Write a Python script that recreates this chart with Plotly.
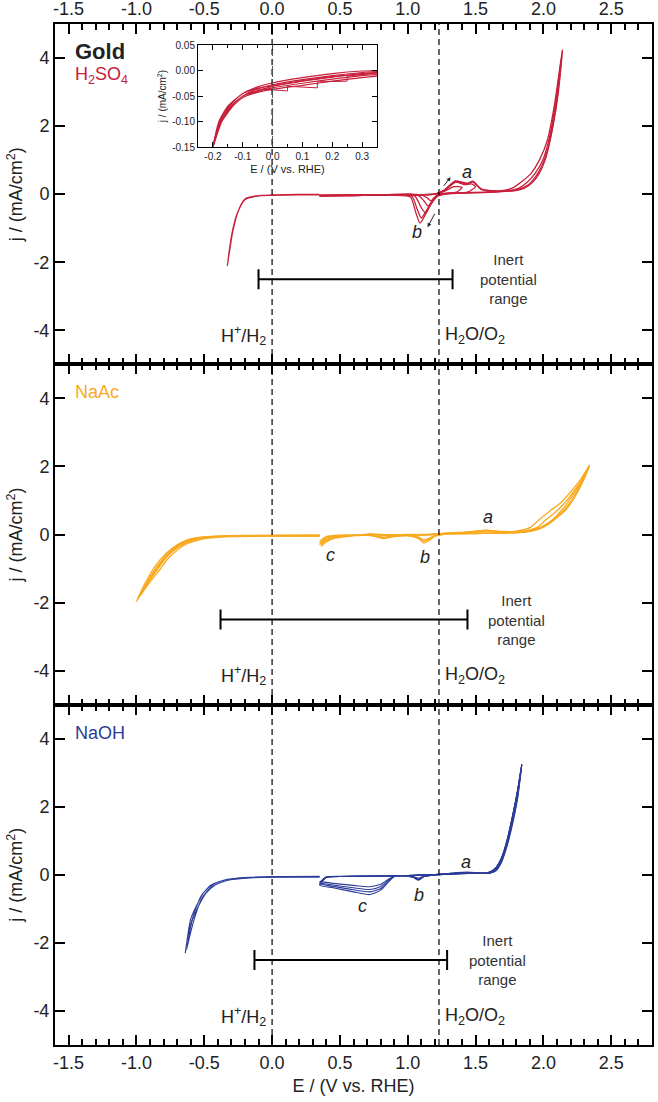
import plotly.graph_objects as go

# ---------------- axis / tick data ----------------
x_range = [-1.6, 2.8]
y_range = [-5, 5]
x_tickvals = [-1.5, -1.0, -0.5, 0.0, 0.5, 1.0, 1.5, 2.0, 2.5]
x_ticktext = ["-1.5", "-1.0", "-0.5", "0.0", "0.5", "1.0", "1.5", "2.0", "2.5"]
y_tickvals = [-4, -2, 0, 2, 4]
y_ticktext = ["-4", "-2", "0", "2", "4"]

inset_x_range = [-0.25, 0.35]
inset_y_range = [-0.15, 0.05]
inset_x_tickvals = [-0.2, -0.1, 0.0, 0.1, 0.2, 0.3]
inset_x_ticktext = ["-0.2", "-0.1", "0.0", "0.1", "0.2", "0.3"]
inset_y_tickvals = [0.05, 0.0, -0.05, -0.10, -0.15]
inset_y_ticktext = ["0.05", "0.00", "-0.05", "-0.10", "-0.15"]

# reference potentials (dashed lines)
ref_potentials = [0.0, 1.23]

# inert potential range bars: top (H2SO4), middle (NaAc), bottom (NaOH)
inert_lo = [-0.10, -0.38, -0.13]
inert_hi = [1.33, 1.44, 1.29]
inert_j = [-2.5, -2.5, -2.5]
inert_text_x = [1.74, 1.80, 1.66]

# ---------------- H2SO4 (top) ----------------
h2so4_her_E = [0.35, 0.2, 0.0, -0.1, -0.2, -0.25, -0.29, -0.33, -0.3, -0.26, -0.2, -0.1, 0.0, 0.2, 0.35]
h2so4_her_j = [-0.02, -0.02, -0.035, -0.05, -0.16, -0.5, -1.1, -2.1, -1.25, -0.6, -0.14, -0.04, -0.025, -0.01, -0.01]

h2so4_c1_E = [0.35, 0.7, 1.0, 1.2, 1.27, 1.34, 1.4, 1.36, 1.28, 1.22, 1.19, 1.17, 1.14, 1.1, 0.9, 0.6, 0.35]
h2so4_c1_j = [-0.03, -0.02, -0.01, 0.0, 0.08, 0.22, 0.2, 0.06, 0.02, -0.02, -0.12, -0.2, -0.1, -0.03, -0.02, -0.03, -0.04]

h2so4_c2_E = [0.35, 0.7, 1.0, 1.2, 1.27, 1.35, 1.42, 1.47, 1.5, 1.44, 1.35, 1.25, 1.21, 1.17, 1.15, 1.12, 1.08, 0.9, 0.6, 0.35]
h2so4_c2_j = [-0.04, -0.02, -0.01, 0.0, 0.1, 0.35, 0.28, 0.3, 0.22, 0.06, 0.03, 0.01, -0.08, -0.25, -0.35, -0.2, -0.04, -0.02, -0.03, -0.05]

h2so4_c3_E = [0.35, 0.7, 1.0, 1.2, 1.27, 1.35, 1.44, 1.48, 1.54, 1.6, 1.65, 1.58, 1.45, 1.3, 1.22, 1.17, 1.13, 1.1, 1.05, 0.9, 0.6, 0.35]
h2so4_c3_j = [-0.04, -0.03, -0.01, 0.0, 0.12, 0.38, 0.32, 0.37, 0.16, 0.1, 0.1, 0.06, 0.05, 0.02, -0.06, -0.3, -0.55, -0.4, -0.05, -0.03, -0.04, -0.05]

h2so4_c4_E = [0.35, 0.7, 1.0, 1.2, 1.27, 1.35, 1.44, 1.48, 1.54, 1.62, 1.72, 1.78, 1.85, 1.91, 1.97, 2.03, 2.08, 2.14,
              2.11, 2.07, 2.03, 1.99, 1.94, 1.88, 1.8, 1.6, 1.4, 1.25, 1.2, 1.15, 1.09, 1.06, 1.02, 0.9, 0.6, 0.35]
h2so4_c4_j = [-0.03, -0.02, -0.01, 0.0, 0.12, 0.38, 0.32, 0.38, 0.15, 0.1, 0.12, 0.2, 0.4, 0.62, 1.0, 1.6, 2.6, 4.24,
              3.0, 2.0, 1.3, 0.85, 0.5, 0.25, 0.12, 0.06, 0.04, 0.01, -0.1, -0.45, -0.85, -0.55, -0.08, -0.03, -0.04, -0.05]

h2so4_c5_E = [0.35, 0.7, 1.0, 1.2, 1.27, 1.35, 1.44, 1.48, 1.54, 1.62, 1.74, 1.82, 1.88, 1.94, 2.0, 2.04, 2.09, 2.14,
              2.1, 2.05, 2.02, 1.97, 1.92, 1.86, 1.78, 1.6, 1.4, 1.25, 1.2, 1.15, 1.1, 1.07, 1.03, 0.9, 0.6, 0.35]
h2so4_c5_j = [-0.04, -0.02, -0.01, 0.0, 0.11, 0.36, 0.3, 0.36, 0.14, 0.09, 0.1, 0.18, 0.35, 0.62, 1.05, 1.6, 2.7, 4.24,
              2.8, 1.6, 1.1, 0.62, 0.35, 0.18, 0.1, 0.05, 0.03, 0.0, -0.1, -0.4, -0.7, -0.45, -0.06, -0.03, -0.04, -0.05]

# ---------------- inset (H2SO4, low potential) ----------------
inset_E = [0.35, 0.3, 0.2, 0.1, 0.0, -0.05, -0.1, -0.15, -0.18, -0.2, -0.17, -0.13, -0.1, -0.05, 0.0, 0.1, 0.2, 0.3, 0.35]
inset_c1_j = [-0.004, -0.006, -0.012, -0.02, -0.03, -0.035, -0.045, -0.07, -0.1, -0.15, -0.09, -0.06, -0.045, -0.032, -0.024, -0.014, -0.006, -0.001, 0.0]
inset_c2_j = [-0.008, -0.01, -0.017, -0.025, -0.034, -0.04, -0.05, -0.075, -0.105, -0.15, -0.095, -0.065, -0.05, -0.036, -0.028, -0.018, -0.01, -0.004, -0.002]
inset_c3_j = [-0.011, -0.014, -0.021, -0.029, -0.037, -0.043, -0.053, -0.079, -0.108, -0.15, -0.1, -0.068, -0.053, -0.04, -0.031, -0.021, -0.013, -0.007, -0.004]
inset_steps_E = [-0.05, -0.05, 0.05, 0.05, 0.15, 0.15, 0.25, 0.25, 0.35]
inset_steps_j = [-0.044, -0.036, -0.04, -0.031, -0.034, -0.022, -0.021, -0.011, -0.005]

# ---------------- NaAc (middle) ----------------
naac_her1_E = [0.35, 0.0, -0.3, -0.45, -0.55, -0.63, -0.7, -0.77, -0.84, -0.92, -1.0, -0.93, -0.86, -0.78, -0.7, -0.62, -0.52, -0.4, -0.2, 0.0, 0.35]
naac_her1_j = [-0.04, -0.04, -0.05, -0.08, -0.13, -0.22, -0.38, -0.62, -1.0, -1.45, -1.97, -1.38, -0.92, -0.55, -0.3, -0.15, -0.08, -0.05, -0.03, -0.03, -0.02]
naac_her2_E = [0.35, 0.0, -0.3, -0.45, -0.55, -0.63, -0.7, -0.77, -0.84, -0.92, -0.98, -0.9, -0.82, -0.74, -0.66, -0.58, -0.48, -0.35, -0.15, 0.1, 0.35]
naac_her2_j = [-0.05, -0.05, -0.06, -0.1, -0.17, -0.28, -0.46, -0.72, -1.1, -1.5, -1.85, -1.25, -0.8, -0.45, -0.24, -0.12, -0.07, -0.05, -0.04, -0.03, -0.03]
naac_her3_E = [0.35, 0.0, -0.3, -0.5, -0.6, -0.68, -0.75, -0.82, -0.9, -0.96, -0.88, -0.8, -0.72, -0.64, -0.55, -0.45, -0.3, 0.0, 0.35]
naac_her3_j = [-0.04, -0.04, -0.05, -0.1, -0.2, -0.34, -0.55, -0.85, -1.3, -1.7, -1.15, -0.7, -0.4, -0.2, -0.1, -0.06, -0.04, -0.03, -0.03]

naac_c1_E = [0.35, 0.4, 0.5, 0.65, 0.72, 0.8, 0.9, 1.0, 1.1, 1.2, 1.3, 1.45, 1.58, 1.7, 1.8, 1.9, 1.97, 2.05, 2.13, 2.2, 2.27, 2.34,
             2.3, 2.25, 2.2, 2.15, 2.07, 1.98, 1.88, 1.7, 1.5, 1.3, 1.2, 1.15, 1.12, 1.08, 1.0, 0.9, 0.82, 0.75, 0.68, 0.55, 0.45, 0.4, 0.36]
naac_c1_j = [-0.3, -0.1, -0.04, -0.03, 0.0, -0.02, -0.03, -0.02, -0.02, 0.0, 0.03, 0.06, 0.1, 0.07, 0.1, 0.2, 0.44, 0.7, 0.94, 1.25, 1.6, 2.03,
             1.7, 1.3, 0.94, 0.7, 0.4, 0.18, 0.08, 0.04, 0.03, 0.02, -0.05, -0.2, -0.25, -0.12, -0.04, -0.06, -0.12, -0.05, -0.02, -0.06, -0.12, -0.22, -0.35]
naac_c2_E = [0.35, 0.4, 0.5, 0.65, 0.72, 0.8, 0.9, 1.0, 1.1, 1.2, 1.3, 1.45, 1.58, 1.7, 1.85, 1.95, 2.02, 2.1, 2.16, 2.23, 2.29, 2.34,
             2.3, 2.24, 2.18, 2.12, 2.04, 1.95, 1.85, 1.7, 1.5, 1.3, 1.2, 1.15, 1.12, 1.08, 1.0, 0.9, 0.82, 0.75, 0.68, 0.55, 0.45, 0.4, 0.36]
naac_c2_j = [-0.25, -0.08, -0.03, -0.02, 0.01, -0.01, -0.02, -0.01, -0.01, 0.01, 0.04, 0.07, 0.12, 0.08, 0.1, 0.2, 0.44, 0.7, 0.94, 1.3, 1.65, 2.03,
             1.65, 1.2, 0.85, 0.6, 0.35, 0.16, 0.07, 0.04, 0.03, 0.02, -0.04, -0.16, -0.2, -0.1, -0.03, -0.05, -0.1, -0.04, -0.02, -0.05, -0.1, -0.18, -0.3]
naac_c3_E = [0.35, 0.4, 0.5, 0.65, 0.72, 0.8, 0.9, 1.0, 1.1, 1.2, 1.3, 1.45, 1.58, 1.7, 1.9, 1.99, 2.07, 2.13, 2.18, 2.24, 2.3, 2.34,
             2.29, 2.23, 2.17, 2.1, 2.02, 1.93, 1.85, 1.7, 1.5, 1.3, 1.2, 1.15, 1.12, 1.08, 1.0, 0.9, 0.82, 0.75, 0.68, 0.55, 0.45, 0.4, 0.36]
naac_c3_j = [-0.2, -0.06, -0.02, -0.01, 0.02, 0.0, -0.01, 0.0, 0.0, 0.02, 0.05, 0.08, 0.13, 0.09, 0.1, 0.22, 0.44, 0.7, 0.94, 1.3, 1.7, 2.03,
             1.55, 1.1, 0.75, 0.5, 0.28, 0.13, 0.07, 0.05, 0.04, 0.03, -0.03, -0.12, -0.16, -0.08, -0.02, -0.04, -0.08, -0.03, -0.01, -0.04, -0.08, -0.15, -0.25]

# ---------------- NaOH (bottom) ----------------
naoh_her1_E = [0.35, 0.0, -0.2, -0.35, -0.45, -0.52, -0.58, -0.62, -0.64, -0.6, -0.55, -0.5, -0.43, -0.35, -0.2, 0.0, 0.35]
naoh_her1_j = [-0.06, -0.06, -0.09, -0.15, -0.3, -0.6, -1.2, -1.8, -2.3, -1.3, -0.85, -0.5, -0.27, -0.15, -0.08, -0.05, -0.04]
naoh_her2_E = [0.35, 0.0, -0.2, -0.35, -0.45, -0.52, -0.57, -0.61, -0.63, -0.59, -0.54, -0.49, -0.42, -0.34, -0.2, 0.0, 0.35]
naoh_her2_j = [-0.07, -0.07, -0.1, -0.18, -0.36, -0.7, -1.25, -1.85, -2.2, -1.35, -0.9, -0.55, -0.3, -0.17, -0.09, -0.06, -0.05]

naoh_c1_E = [0.35, 0.4, 0.5, 0.7, 0.9, 1.0, 1.1, 1.2, 1.3, 1.44, 1.55, 1.6, 1.65, 1.69, 1.73, 1.77, 1.81, 1.84,
             1.81, 1.77, 1.73, 1.69, 1.65, 1.6, 1.45, 1.3, 1.2, 1.12, 1.08, 1.04, 0.98, 0.9, 0.86, 0.8, 0.72, 0.6, 0.45, 0.35]
naoh_c1_j = [-0.3, -0.08, -0.05, -0.04, -0.03, -0.02, 0.0, 0.01, 0.04, 0.08, 0.05, 0.08, 0.22, 0.5, 1.0, 1.7, 2.5, 3.24,
             2.4, 1.6, 0.9, 0.42, 0.15, 0.05, 0.05, 0.02, 0.0, -0.05, -0.16, -0.08, -0.03, -0.05, -0.2, -0.45, -0.58, -0.5, -0.38, -0.3]
naoh_c2_E = [0.35, 0.4, 0.5, 0.7, 0.9, 1.0, 1.1, 1.2, 1.3, 1.44, 1.55, 1.6, 1.65, 1.69, 1.73, 1.77, 1.81, 1.84,
             1.81, 1.77, 1.73, 1.69, 1.65, 1.6, 1.45, 1.3, 1.2, 1.12, 1.08, 1.04, 0.98, 0.9, 0.86, 0.8, 0.72, 0.6, 0.45, 0.35]
naoh_c2_j = [-0.28, -0.07, -0.05, -0.04, -0.03, -0.02, 0.0, 0.01, 0.04, 0.07, 0.05, 0.07, 0.2, 0.48, 0.98, 1.68, 2.5, 3.24,
             2.35, 1.55, 0.88, 0.4, 0.14, 0.05, 0.04, 0.02, 0.0, -0.05, -0.14, -0.07, -0.03, -0.05, -0.18, -0.4, -0.5, -0.44, -0.34, -0.27]
naoh_c3_E = [0.35, 0.4, 0.5, 0.7, 0.9, 1.0, 1.1, 1.2, 1.3, 1.44, 1.55, 1.6, 1.65, 1.69, 1.73, 1.77, 1.81, 1.84,
             1.81, 1.77, 1.73, 1.69, 1.65, 1.6, 1.45, 1.3, 1.2, 1.12, 1.08, 1.04, 0.98, 0.9, 0.86, 0.8, 0.72, 0.6, 0.45, 0.35]
naoh_c3_j = [-0.25, -0.07, -0.05, -0.04, -0.03, -0.02, 0.0, 0.01, 0.03, 0.07, 0.05, 0.07, 0.2, 0.47, 0.97, 1.67, 2.48, 3.24,
             2.3, 1.5, 0.85, 0.38, 0.13, 0.05, 0.04, 0.02, 0.0, -0.04, -0.12, -0.06, -0.03, -0.04, -0.15, -0.34, -0.43, -0.38, -0.3, -0.24]
naoh_c4_E = [0.35, 0.4, 0.5, 0.7, 0.9, 1.0, 1.1, 1.2, 1.3, 1.44, 1.55, 1.6, 1.65, 1.69, 1.73, 1.77, 1.81, 1.84,
             1.81, 1.77, 1.73, 1.69, 1.65, 1.6, 1.45, 1.3, 1.2, 1.12, 1.08, 1.04, 0.98, 0.9, 0.86, 0.8, 0.72, 0.6, 0.45, 0.35]
naoh_c4_j = [-0.22, -0.06, -0.04, -0.03, -0.03, -0.02, 0.0, 0.01, 0.03, 0.06, 0.05, 0.07, 0.19, 0.46, 0.96, 1.66, 2.47, 3.24,
             2.25, 1.45, 0.82, 0.36, 0.12, 0.05, 0.04, 0.02, 0.0, -0.04, -0.1, -0.05, -0.02, -0.04, -0.12, -0.28, -0.35, -0.31, -0.25, -0.2]

RED = "#C8203C"
ORANGE = "#F8AA1F"
BLUE = "#2C3C98"

fig = go.Figure()

def add_curve(E, j, color, xa, ya, width=1.3):
    fig.add_trace(go.Scatter(x=E, y=j, mode="lines", xaxis=xa, yaxis=ya,
                             line=dict(color=color, width=width, shape="spline", smoothing=0.6),
                             showlegend=False, hoverinfo="skip"))

# top panel curves (x3/y3)
for E, j in [(h2so4_her_E, h2so4_her_j), (h2so4_c1_E, h2so4_c1_j), (h2so4_c2_E, h2so4_c2_j),
             (h2so4_c3_E, h2so4_c3_j), (h2so4_c4_E, h2so4_c4_j), (h2so4_c5_E, h2so4_c5_j)]:
    add_curve(E, j, RED, "x3", "y3")

# middle panel curves (x2/y2)
for E, j in [(naac_her1_E, naac_her1_j), (naac_her2_E, naac_her2_j), (naac_her3_E, naac_her3_j),
             (naac_c1_E, naac_c1_j), (naac_c2_E, naac_c2_j), (naac_c3_E, naac_c3_j)]:
    add_curve(E, j, ORANGE, "x2", "y2")

# bottom panel curves (x/y)
for E, j in [(naoh_her1_E, naoh_her1_j), (naoh_her2_E, naoh_her2_j), (naoh_c1_E, naoh_c1_j),
             (naoh_c2_E, naoh_c2_j), (naoh_c3_E, naoh_c3_j), (naoh_c4_E, naoh_c4_j)]:
    add_curve(E, j, BLUE, "x", "y", width=1.1)

# inset curves
for jj in [inset_c1_j, inset_c2_j, inset_c3_j]:
    add_curve(inset_E, jj, RED, "x4", "y4", width=1.2)
fig.add_trace(go.Scatter(x=inset_steps_E, y=inset_steps_j, mode="lines", xaxis="x4", yaxis="y4",
                         line=dict(color=RED, width=1), showlegend=False, hoverinfo="skip"))

# inert potential range bars
panel_axes = [("x3", "y3"), ("x2", "y2"), ("x", "y")]
for k, (xa, ya) in enumerate(panel_axes):
    lo, hi = inert_lo[k], inert_hi[k]
    fig.add_trace(go.Scatter(x=[(lo + hi) / 2], y=[inert_j[k]], mode="markers", xaxis=xa, yaxis=ya,
                             marker=dict(size=1, color="black"),
                             error_x=dict(type="data", array=[(hi - lo) / 2], symmetric=True,
                                          width=10, thickness=2, color="black"),
                             showlegend=False, hoverinfo="skip"))

# ---------------- layout ----------------
# target plot frame on screen: x 55..652, y 24..1045 (page body margin removed by post_script)
W, H = 658, 1102
ml, mt = 55, 24
pw, ph = 597, 1021
mr = W - ml - pw
mb = H - mt - ph

tickfont = dict(family="Liberation Sans, Arial, sans-serif", size=18, color="#222")

def xaxis_cfg(anchor, **kw):
    d = dict(range=x_range, tickmode="array", tickvals=x_tickvals, ticktext=x_ticktext,
             ticks="inside", ticklen=10, tickwidth=1.5, tickcolor="black",
             showline=True, linewidth=2, linecolor="black", mirror="ticks",
             showgrid=False, zeroline=False, anchor=anchor, domain=[0, 1],
             minor=dict(ticks="inside", ticklen=6, tickwidth=1.5, tickcolor="black",
                        dtick=0.1, tick0=0, showgrid=False),
             tickfont=tickfont)
    d.update(kw)
    return d

def yaxis_cfg(anchor, domain):
    return dict(range=y_range, tickmode="array", tickvals=y_tickvals, ticktext=y_ticktext,
                ticks="inside", ticklen=10, tickwidth=1.5, tickcolor="black",
                showline=True, linewidth=2, linecolor="black", mirror="ticks",
                showgrid=False, zeroline=False, anchor=anchor, domain=domain,
                tickfont=tickfont,
                title=dict(text="j / (mA/cm<sup>2</sup>)", font=dict(size=18, color="#222"), standoff=6))

def sx(px):  # screen x -> paper fraction
    return (px - ml) / pw

def sy(py):  # screen y -> paper fraction
    return (H - mb - py) / ph

inset_font = dict(family="Liberation Sans, Arial, sans-serif", size=10, color="#222")
inset_x_dom = [sx(198), sx(377)]
inset_y_dom = [sy(147), sy(45)]

fig.update_layout(
    width=W, height=H, template="none",
    paper_bgcolor="white", plot_bgcolor="white",
    margin=dict(l=ml, r=mr, t=mt, b=mb),
    font=dict(family="Liberation Sans, Arial, sans-serif", color="#222"),
    showlegend=False,
    xaxis=xaxis_cfg("y", title=dict(text="E / (V vs. RHE)", font=dict(size=18, color="#222"), standoff=8)),
    xaxis2=xaxis_cfg("y2", showticklabels=False),
    xaxis3=xaxis_cfg("y3", side="top"),
    yaxis=yaxis_cfg("x", [0, 1 / 3]),
    yaxis2=yaxis_cfg("x2", [1 / 3, 2 / 3]),
    yaxis3=yaxis_cfg("x3", [2 / 3, 1]),
    xaxis4=dict(range=inset_x_range, tickmode="array", tickvals=inset_x_tickvals, ticktext=inset_x_ticktext,
                ticks="inside", ticklen=5, tickwidth=1, tickcolor="black",
                showline=True, linewidth=1, linecolor="black", mirror="ticks",
                showgrid=False, zeroline=False, anchor="y4", domain=inset_x_dom,
                minor=dict(ticks="inside", ticklen=3, tickwidth=1, dtick=0.05, tick0=0, showgrid=False),
                tickfont=inset_font,
                title=dict(text="E / (V vs. RHE)", font=dict(size=11, color="#222"), standoff=4)),
    yaxis4=dict(range=inset_y_range, tickmode="array", tickvals=inset_y_tickvals, ticktext=inset_y_ticktext,
                ticks="inside", ticklen=5, tickwidth=1, tickcolor="black",
                showline=True, linewidth=1, linecolor="black", mirror="ticks",
                showgrid=False, zeroline=False, anchor="x4", domain=inset_y_dom,
                tickfont=inset_font,
                title=dict(text="j / (mA/cm<sup>2</sup>)", font=dict(size=10, color="#222"), standoff=3)),
)

# dashed reference lines across all panels
for e in ref_potentials:
    fig.add_shape(type="line", xref="x", yref="paper", x0=e, x1=e, y0=0, y1=1,
                  line=dict(color="black", width=1.2, dash="6px,4px"), layer="above")
fig.add_shape(type="line", xref="x4", yref="y4", x0=0, x1=0, y0=inset_y_range[0], y1=inset_y_range[1],
              line=dict(color="#555", width=1, dash="4px,3px"))

ann = []
def txt(x, y, xa, ya, text, size=18, color="#222", xanchor="center", **kw):
    ann.append(dict(x=x, y=y, xref=xa, yref=ya, text=text, showarrow=False, xanchor=xanchor,
                    yanchor="middle", font=dict(size=size, color=color), **kw))

# panel labels
txt(-1.47, 4.18, "x3", "y3", "<b>Gold</b>", size=22, color="#222", xanchor="left")
txt(-1.47, 3.5, "x3", "y3", "H<sub>2</sub>SO<sub>4</sub>", size=18, color=RED, xanchor="left")
txt(-1.47, 4.18, "x2", "y2", "NaAc", size=18, color=ORANGE, xanchor="left")
txt(-1.47, 4.18, "x", "y", "NaOH", size=18, color=BLUE, xanchor="left")

# reference labels and inert range text
for k, (xa, ya) in enumerate(panel_axes):
    txt(-0.03, -4.15, xa, ya, "H<sup>+</sup>/H<sub>2</sub>", size=18, xanchor="right")
    txt(1.26, -4.15, xa, ya, "H<sub>2</sub>O/O<sub>2</sub>", size=18, xanchor="left")
    txt(inert_text_x[k], -2.5, xa, ya, "Inert<br>potential<br>range", size=15, color="#333")

# peak labels
txt(1.44, 0.65, "x3", "y3", "<i>a</i>")
txt(1.07, -1.1, "x3", "y3", "<i>b</i>")
txt(0.43, -0.6, "x2", "y2", "<i>c</i>")
txt(1.13, -0.67, "x2", "y2", "<i>b</i>")
txt(1.59, 0.5, "x2", "y2", "<i>a</i>")
txt(1.43, 0.38, "x", "y", "<i>a</i>")
txt(1.08, -0.6, "x", "y", "<i>b</i>")
txt(0.665, -0.91, "x", "y", "<i>c</i>")

# arrows near peaks a and b (top panel)
ann.append(dict(x=1.316, y=0.5, ax=1.256, ay=0.2, xref="x3", yref="y3", axref="x3", ayref="y3",
                showarrow=True, arrowhead=2, arrowsize=0.8, arrowwidth=1, arrowcolor="#222", text=""))
ann.append(dict(x=1.146, y=-0.97, ax=1.205, ay=-0.53, xref="x3", yref="y3", axref="x3", ayref="y3",
                showarrow=True, arrowhead=2, arrowsize=0.8, arrowwidth=1, arrowcolor="#222", text=""))

fig.update_layout(annotations=ann)

fig.write_html("out.html", config={"displayModeBar": False},
               post_script="document.body.style.margin='0';")
